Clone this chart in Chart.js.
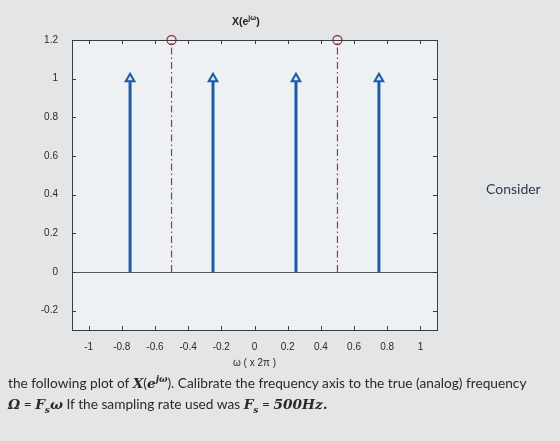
<!DOCTYPE html>
<html>
<head>
<meta charset="utf-8">
<script src="https://cdn.jsdelivr.net/npm/chart.js@4.4.1/dist/chart.umd.min.js"></script>
<style>
  html, body { margin: 0; padding: 0; }
  body { width: 560px; height: 441px; background: #e3e5e7; position: relative; overflow: hidden; font-family: Lato, sans-serif; }
  #wrap { position: absolute; left: 0; top: 0; width: 560px; height: 441px; }
  .title { position: absolute; left: 232px; top: 14px; font: bold 10.5px "Liberation Sans", sans-serif; color: #222; }
  .title sup { font-size: 7px; }
  .consider { position: absolute; left: 486px; top: 180px; font-size: 14px; color: #2e3a50; }
  .q { position: absolute; left: 8px; font-size: 13.7px; color: #2a2a2a; white-space: nowrap; }
  .m { font-family: "DejaVu Serif", serif; font-style: italic; font-weight: bold; }
</style>
</head>
<body>
<div id="wrap"><canvas id="c" width="560" height="441"></canvas></div>
<div class="title">X(e<sup>jω</sup>)</div>
<div class="consider">Consider</div>
<div class="q" style="top:374px">the following plot of <span class="m">X</span>(<span class="m">e<sup style="font-size:9px">jω</sup></span>). Calibrate the frequency axis to the true (analog) frequency</div>
<div class="q" style="top:395px"><span class="m">Ω</span> = <span class="m">F<sub style="font-size:9px">s</sub>ω</span> If the sampling rate used was <span class="m">F<sub style="font-size:9px">s</sub></span> = <span class="m">500Hz.</span></div>
<script>
/* ── DATA ─────────────────────────────────────────────────────────────── */
const stemX = [-0.75, -0.25, 0.25, 0.75];   // blue impulses (arrows)
const stemY = [1, 1, 1, 1];
const markX = [-0.5, 0.5];                   // red dash-dot markers
const markY = [1.2, 1.2];
const xTicks = [-1, -0.8, -0.6, -0.4, -0.2, 0, 0.2, 0.4, 0.6, 0.8, 1];
const xTickLabels = ["-1", "-0.8", "-0.6", "-0.4", "-0.2", "0", "0.2", "0.4", "0.6", "0.8", "1"];
const yTicks = [-0.2, 0, 0.2, 0.4, 0.6, 0.8, 1, 1.2];
const yTickLabels = ["-0.2", "0", "0.2", "0.4", "0.6", "0.8", "1", "1.2"];

/* ── COLOURS ──────────────────────────────────────────────────────────── */
const BLUE = "#1d5ba6";
const RED = "#a8304c";
const AXIS = "#3a3d40";
const PLOT_BG = "#eef1f3";
const FONT = "Liberation Sans";

/* build stem segments, broken by null gaps */
function stems(xs, ys) {
  const pts = [];
  xs.forEach((x, i) => {
    pts.push({ x: x, y: 0 }, { x: x, y: ys[i] }, { x: x, y: null });
  });
  return pts;
}

/* plot box, baseline and inward ticks (MATLAB style) */
const boxPlugin = {
  id: "box",
  beforeDatasetsDraw(chart) {
    const { ctx, chartArea: a, scales: { x, y } } = chart;
    ctx.save();
    ctx.fillStyle = PLOT_BG;
    ctx.fillRect(a.left, a.top, a.right - a.left, a.bottom - a.top);
    ctx.strokeStyle = "#55595d";
    ctx.lineWidth = 1;
    const y0 = Math.round(y.getPixelForValue(0)) + 0.5;
    ctx.beginPath();
    ctx.moveTo(a.left, y0);
    ctx.lineTo(a.right, y0);
    ctx.stroke();
    ctx.restore();
  },
  afterDraw(chart) {
    const { ctx, chartArea: a, scales: { x, y } } = chart;
    ctx.save();
    ctx.strokeStyle = AXIS;
    ctx.lineWidth = 1;
    ctx.strokeRect(Math.round(a.left) + 0.5, Math.round(a.top) + 0.5,
      Math.round(a.right - a.left), Math.round(a.bottom - a.top));
    const t = 4;
    ctx.beginPath();
    xTicks.forEach(v => {
      const px = Math.round(x.getPixelForValue(v)) + 0.5;
      ctx.moveTo(px, a.bottom); ctx.lineTo(px, a.bottom - t);
      ctx.moveTo(px, a.top); ctx.lineTo(px, a.top + t);
    });
    yTicks.forEach(v => {
      const py = Math.round(y.getPixelForValue(v)) + 0.5;
      ctx.moveTo(a.left, py); ctx.lineTo(a.left + t, py);
      ctx.moveTo(a.right, py); ctx.lineTo(a.right - t, py);
    });
    ctx.stroke();
    ctx.restore();
  },
};

new Chart(document.getElementById("c"), {
  type: "scatter",
  data: {
    datasets: [
      {
        data: stems(markX, markY),
        showLine: true,
        spanGaps: false,
        borderColor: RED,
        borderWidth: 1.2,
        borderDash: [7, 3, 1.5, 3],
        pointRadius: ctx => (ctx.raw && ctx.raw.y === 1.2 ? 4.5 : 0),
        pointBackgroundColor: "rgba(255,255,255,0)",
        pointBorderColor: RED,
        pointBorderWidth: 1.3,
        clip: false,
      },
      {
        data: stems(stemX, stemY),
        showLine: true,
        spanGaps: false,
        borderColor: BLUE,
        borderWidth: 3,
        pointStyle: "triangle",
        pointRadius: ctx => (ctx.raw && ctx.raw.y === 1 ? 5 : 0),
        pointBackgroundColor: "#d6e4f4",
        pointBorderColor: BLUE,
        pointBorderWidth: 2,
      },
    ],
  },
  options: {
    responsive: false,
    animation: false,
    events: [],
    layout: { padding: { left: 0, top: 40, right: 123, bottom: 72 } },
    plugins: { legend: { display: false }, tooltip: { enabled: false } },
    scales: {
      x: {
        type: "linear",
        min: -1.1,
        max: 1.1,
        afterBuildTicks: s => { s.ticks = xTicks.map(v => ({ value: v })); },
        afterFit: s => { s.height = 39; },
        grid: { display: false },
        border: { display: false },
        ticks: {
          autoSkip: false,
          maxRotation: 0,
          padding: 3,
          color: "#2a2a2a",
          font: { family: FONT, size: 10 },
          callback: (v) => xTickLabels[xTicks.indexOf(v)],
        },
        title: {
          display: true,
          text: "ω ( x 2π )",
          color: "#2a2a2a",
          font: { family: FONT, size: 10 },
          padding: { top: 0, bottom: 0 },
        },
      },
      y: {
        min: -0.3,
        max: 1.2,
        afterBuildTicks: s => { s.ticks = yTicks.map(v => ({ value: v })); },
        afterFit: s => { s.width = 72; },
        grid: { display: false },
        border: { display: false },
        ticks: {
          padding: 6,
          color: "#2a2a2a",
          font: { family: FONT, size: 10 },
          callback: (v) => yTickLabels[yTicks.indexOf(v)],
        },
      },
    },
  },
  plugins: [boxPlugin],
});
</script>
</body>
</html>
